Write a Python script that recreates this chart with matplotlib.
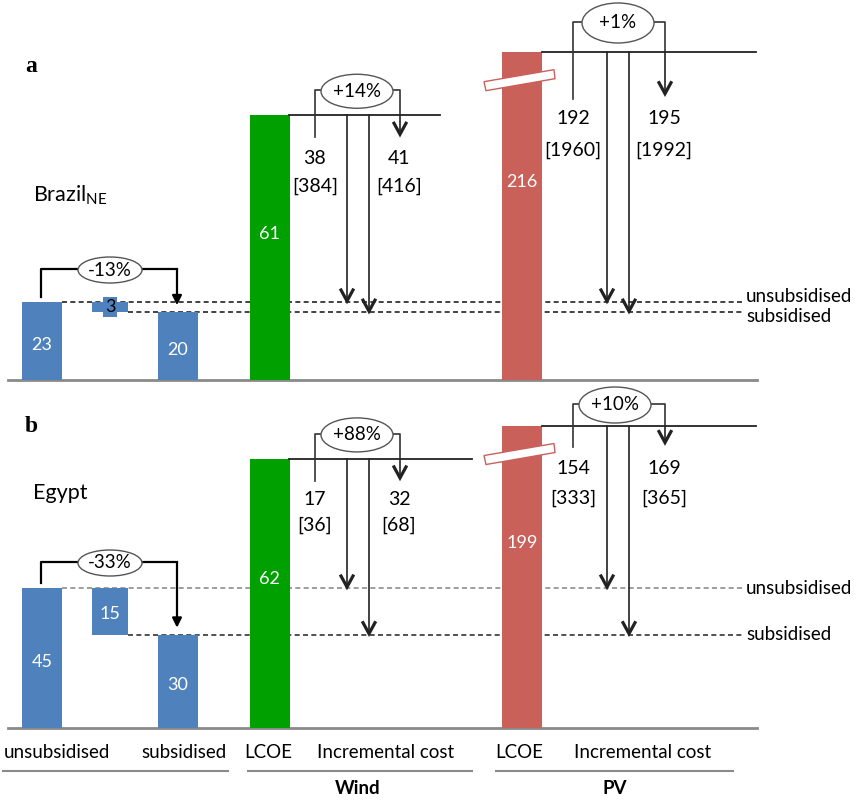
import matplotlib
matplotlib.use("Agg")
import matplotlib.pyplot as plt
from matplotlib.patches import Ellipse, Polygon

plt.rcParams['font.family'] = ['Lato', 'DejaVu Sans']
plt.rcParams['mathtext.fontset'] = 'custom'
plt.rcParams['mathtext.rm'] = 'Lato'
plt.rcParams['mathtext.it'] = 'Lato:italic'

# ---- values ----
panel_tags = ["a", "b"]
countries = ["Brazil$_{\\mathrm{NE}}$", "Egypt"]
grid_costs = [[23, 3, 20], [45, 15, 30]]   # unsubsidised, subsidy, subsidised
grid_change = ["-13%", "-33%"]
wind_lcoe = [61, 62]
wind_incr = [[38, 41], [17, 32]]
wind_incr_total = [[384, 416], [36, 68]]
wind_change = ["+14%", "+88%"]
pv_lcoe = [216, 199]
pv_incr = [[192, 195], [154, 169]]
pv_incr_total = [[1960, 1992], [333, 365]]
pv_change = ["+1%", "+10%"]
bottom_labels = ["unsubsidised", "subsidised", "LCOE", "Incremental cost",
                 "LCOE", "Incremental cost"]
group_labels = ["Wind", "PV"]
level_labels = ["unsubsidised", "subsidised"]

# ---- layout (pixels, schematic scales) ----
BLUE, GREEN, RED = '#4F81BD', '#00A000', '#C9605A'
baselines = [380, 728]
grid_scale = [78 / 23, 140 / 45]
wind_scale = 4.34
pv_scale = 1.52          # broken bar
grid_x = [42, 110, 178]
wind_x, pv_x = 269.5, 522
bar_w = 40
fs = 13.5       # labels
fs_num = 14     # incremental cost numbers
fs_bar = 13     # numbers inside bars

fig = plt.figure(figsize=(8.58, 8.0), dpi=100)
ax = fig.add_axes([0, 0, 1, 1])
ax.set_xlim(0, 858)
ax.set_ylim(800, 0)
ax.axis('off')


def v_arrow(x, y0, y1, lw=1.2, color='#222'):
    ax.plot([x, x], [y0, y1 - 1], color=color, lw=lw, zorder=3)
    ax.plot([x - 6, x, x + 6], [y1 - 12, y1 - 1, y1 - 12], color=color,
            lw=2.3, zorder=3, solid_joinstyle='miter')


def bubble(cx, cy, w, h, txt):
    ax.add_patch(Ellipse((cx, cy), w, h, facecolor='white', edgecolor='#555',
                         lw=1.0, zorder=4))
    ax.text(cx, cy, txt, ha='center', va='center', fontsize=fs, zorder=5)


wind_top_line_end = [440, 472]
wind_text_dy = [(43, 71), (41, 66)]
pv_text_dy = [(67, 99), (43, 73)]
pv_stub = [47, 21]
pv_bubble = [(618, 23, 72, 40), (615, 405, 72, 36)]
grid_bracket_gap = [33, 26]
dash_colors = [('#222', '#222'), ('#8c8c8c', '#333')]

for p in range(2):
    base = baselines[p]
    s = grid_scale[p]
    u, d, sb = grid_costs[p]
    top_u = base - u * s
    top_s = base - sb * s

    # baseline
    ax.plot([8, 757], [base, base], color='#8a8a8a', lw=2, zorder=1)

    # dashed reference levels
    ax.plot([62, 742], [top_u, top_u], color=dash_colors[p][0], lw=1.2,
            ls=(0, (3, 2)), zorder=1)
    ax.plot([128, 742], [top_s, top_s], color=dash_colors[p][1], lw=1.2,
            ls=(0, (3, 2)), zorder=1)
    close = (top_s - top_u) < 25
    ax.text(746, top_u - (6 if close else 0), level_labels[0], fontsize=fs,
            va='center', ha='left')
    ax.text(746, top_s + (4 if close else 0), level_labels[1], fontsize=fs,
            va='center', ha='left')

    # waterfall bars
    ax.bar([grid_x[0], grid_x[2]], [-u * s, -sb * s], bottom=base, width=bar_w,
           color=BLUE, zorder=2)
    ax.bar(grid_x[1], d * s, bottom=top_u, width=36, color=BLUE, zorder=2)
    ax.text(grid_x[0], base - u * s / 2 + 4, str(u), color='white',
            fontsize=fs_bar, ha='center', va='center', zorder=3)
    ax.text(grid_x[2], base - sb * s / 2 + 4, str(sb), color='white',
            fontsize=fs_bar, ha='center', va='center', zorder=3)
    if d * s < 20:
        ax.text(grid_x[1], top_u + d * s / 2, str(d), color='black',
                fontsize=fs_bar, ha='center', va='center', zorder=3,
                bbox=dict(boxstyle='square,pad=0.12', fc=BLUE, ec='none'))
    else:
        ax.text(grid_x[1], top_u + d * s / 2 + 3, str(d), color='white',
                fontsize=fs_bar, ha='center', va='center', zorder=3)

    # bracket with percent change
    ybr = top_u - grid_bracket_gap[p]
    ax.plot([41, 41, 177], [top_u - 5, ybr, ybr], color='black', lw=1.6, zorder=3)
    ax.annotate('', xy=(177, top_s - 7), xytext=(177, ybr),
                arrowprops=dict(arrowstyle='-|>', color='black', lw=1.6,
                                mutation_scale=14, shrinkA=0, shrinkB=0),
                zorder=3)
    bubble(110, ybr + 1, 64, 26, grid_change[p])

    # wind
    w_top = base - wind_lcoe[p] * wind_scale
    ax.bar(wind_x, -wind_lcoe[p] * wind_scale, bottom=base, width=bar_w,
           color=GREEN, zorder=2)
    ax.text(wind_x, (w_top + base) / 2 - 14, str(wind_lcoe[p]), color='white',
            fontsize=fs_bar, ha='center', va='center', zorder=3)
    ax.plot([289, wind_top_line_end[p]], [w_top, w_top], color='#222', lw=1.3,
            zorder=3)
    wbr = w_top - 25
    ax.plot([315, 315, 400, 400], [w_top + 22, wbr, wbr, w_top], color='#333',
            lw=1.2, zorder=3)
    v_arrow(400, w_top, w_top + 20)
    bubble(357, wbr + 1, 72, 34, wind_change[p])
    v_arrow(347, w_top, top_u)
    v_arrow(369, w_top, top_s)
    for xi, val, tot in zip([315, 399], wind_incr[p], wind_incr_total[p]):
        ax.text(xi, w_top + wind_text_dy[p][0], str(val), fontsize=fs_num,
                ha='center', va='center')
        ax.text(xi, w_top + wind_text_dy[p][1], f"[{tot}]", fontsize=fs_num,
                ha='center', va='center')

    # pv (broken bar)
    p_top = base - pv_lcoe[p] * pv_scale
    ax.bar(pv_x, -pv_lcoe[p] * pv_scale, bottom=base, width=bar_w, color=RED,
           zorder=2)
    ax.text(pv_x, (p_top + base) / 2 - 34, str(pv_lcoe[p]), color='white',
            fontsize=fs_bar, ha='center', va='center', zorder=3)
    yb = p_top + 25
    ax.add_patch(Polygon([(484, yb + 5), (486, yb + 14), (555, yb + 2),
                          (554, yb - 7)], closed=True, fc='white', ec=RED,
                         lw=1.0, zorder=3))
    ax.plot([542, 756], [p_top, p_top], color='#222', lw=1.3, zorder=3)
    cx, cy, bw, bh = pv_bubble[p]
    pbr = cy - 1
    ax.plot([573, 573, 665, 665], [p_top + pv_stub[p], pbr, pbr, p_top],
            color='#333', lw=1.2, zorder=3)
    v_arrow(665, p_top, p_top + 43 if p == 0 else p_top + 18)
    bubble(cx, cy, bw, bh, pv_change[p])
    v_arrow(607, p_top, top_u)
    v_arrow(629, p_top, top_s)
    for xi, val, tot in zip([573, 664], pv_incr[p], pv_incr_total[p]):
        ax.text(xi, p_top + pv_text_dy[p][0], str(val), fontsize=fs_num,
                ha='center', va='center')
        ax.text(xi, p_top + pv_text_dy[p][1], f"[{tot}]", fontsize=fs_num,
                ha='center', va='center')

    # panel tag and country
    ax.text(31, [67, 426][p], panel_tags[p], family='Liberation Serif',
            weight='bold', fontsize=17, ha='center', va='center')
    ax.text(33, [195, 493][p], countries[p], fontsize=15.5, ha='left',
            va='center')

# bottom category labels
for xc, lab in zip([57, 184, 268, 386, 519, 643], bottom_labels):
    ax.text(xc, 753, lab, fontsize=fs, ha='center', va='center')
for x0, x1 in [(3, 228), (248, 472), (496, 733)]:
    ax.plot([x0, x1], [771, 771], color='#8a8a8a', lw=1.5)
for xc, lab in zip([358, 615], group_labels):
    ax.text(xc, 789, lab, fontsize=fs, weight='bold', ha='center', va='center')

fig.savefig('out.png', dpi=100)
